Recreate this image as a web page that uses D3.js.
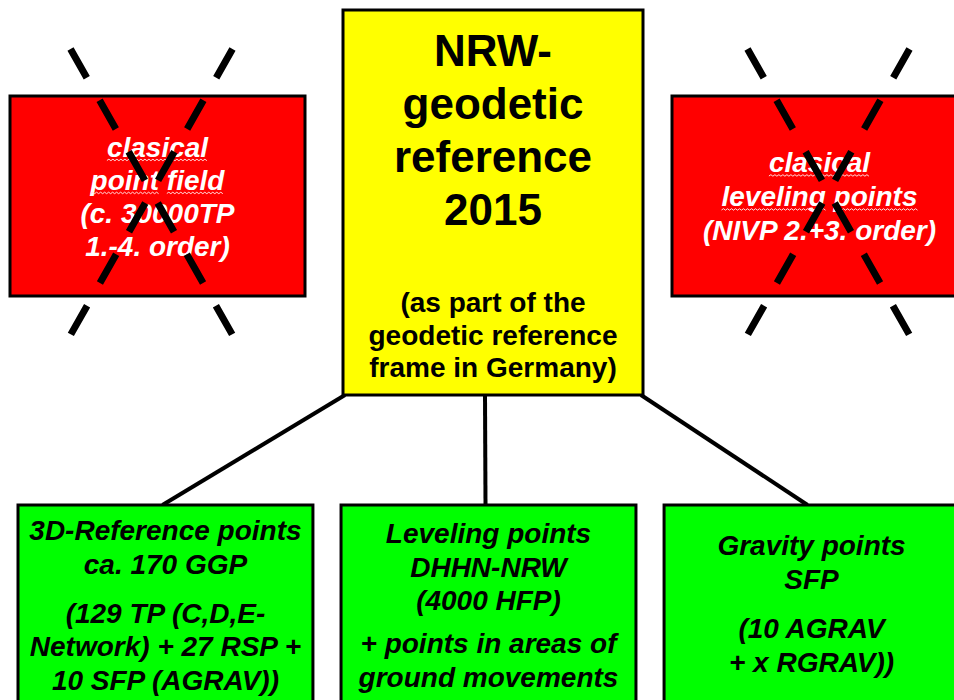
<!DOCTYPE html>
<html>
<head>
<meta charset="utf-8">
<script src="https://cdn.jsdelivr.net/npm/d3@7"></script>
<style>
  html, body { margin: 0; padding: 0; background: #fff; overflow: hidden; }
  svg { display: block; font-family: "Liberation Sans", Arial, sans-serif; }
</style>
</head>
<body>
<svg width="954" height="700"></svg>
<script>
// ---- diagram content ----
var topNodes = ["old_points", "nrw", "old_leveling"];
var bottomNodes = ["3d", "leveling", "gravity"];

var titleLines = ["NRW-", "geodetic", "reference", "2015"];
var subtitleLines = ["(as part of the", "geodetic reference", "frame in Germany)"];

var oldPointsLines = ["clasical", "point field", "(c. 30000TP", "1.-4. order)"];
var oldLevelingLines = ["clasical", "leveling points", "(NIVP 2.+3. order)"];
// lines that carry the spell-check squiggle in the original slide
var flaggedLines = ["clasical", "point field", "leveling points"];

var bottomTexts = [
  [["3D-Reference points", "ca. 170 GGP"], ["(129 TP (C,D,E-", "Network) + 27 RSP +", "10 SFP (AGRAV))"]],
  [["Leveling points", "DHHN-NRW", "(4000 HFP)"], ["+ points in areas of", "ground movements"]],
  [["Gravity points", "SFP"], ["(10 AGRAV", "+ x RGRAV))"]]
];

// ---- layout ----
var svg = d3.select("svg");
var W = 954, H = 700;

var topX = d3.scaleOrdinal().domain(topNodes).range([10, 343, 672]);
var topW = d3.scaleOrdinal().domain(topNodes).range([295, 300, 295]);

var redY = 96, redH = 200;
var yelY = 10, yelH = 385;

var xBottom = d3.scaleBand()
  .domain(bottomNodes)
  .range([18, 959])
  .paddingInner(0.087)
  .paddingOuter(0);
var greenY = 505, greenH = 260;

var lineW = 3;

// connectors (drawn first, behind boxes)
var yx = topX("nrw"), yw = topW("nrw");
var connectors = [
  { x1: yx + 2, y1: yelY + yelH, x2: xBottom("3d") + xBottom.bandwidth() / 2 - 3 },
  { x1: yx + 142, y1: yelY + yelH, x2: xBottom("leveling") + xBottom.bandwidth() / 2 - 3 },
  { x1: yx + yw - 2, y1: yelY + yelH, x2: xBottom("gravity") + xBottom.bandwidth() / 2 - 4 }
];
svg.append("g")
  .selectAll("line")
  .data(connectors)
  .enter()
  .append("line")
    .attr("x1", function(d){ return d.x1; })
    .attr("y1", function(d){ return d.y1; })
    .attr("x2", function(d){ return d.x2; })
    .attr("y2", greenY)
    .attr("stroke", "#000")
    .attr("stroke-width", 4);

// green boxes
svg.append("g")
  .selectAll("rect")
  .data(bottomNodes)
  .enter()
  .append("rect")
    .attr("x", function(d){ return xBottom(d); })
    .attr("y", greenY)
    .attr("width", xBottom.bandwidth())
    .attr("height", greenH)
    .attr("fill", "#00ff00")
    .attr("stroke", "#000")
    .attr("stroke-width", lineW);

// green box texts
var firstBase = [540, 543, 555];
var lh = 33.5;
var paraGap = [15.5, 9.5, 16];
bottomNodes.forEach(function(node, i){
  var t = svg.append("text")
    .attr("text-anchor", "middle")
    .attr("font-size", 28)
    .attr("font-weight", "bold")
    .attr("font-style", "italic")
    .attr("fill", "#000");
  var y = firstBase[i];
  var cx = xBottom(node) + xBottom.bandwidth() / 2;
  bottomTexts[i].forEach(function(para, p){
    if (p > 0) y += paraGap[i];
    para.forEach(function(line){
      t.append("tspan").attr("x", cx).attr("y", y).text(line);
      y += lh;
    });
  });
});

// red boxes
var redNodes = ["old_points", "old_leveling"];
svg.append("g")
  .selectAll("rect")
  .data(redNodes)
  .enter()
  .append("rect")
    .attr("x", function(d){ return topX(d); })
    .attr("y", redY)
    .attr("width", function(d){ return topW(d); })
    .attr("height", redH)
    .attr("fill", "#ff0000")
    .attr("stroke", "#000")
    .attr("stroke-width", lineW);

// little wavy underline like the spell checker draws
function squiggle(x0, x1, y){
  var p = d3.path();
  p.moveTo(x0, y);
  var up = true;
  for (var x = x0 + 2; x <= x1; x += 2) {
    p.lineTo(x, up ? y - 1.3 : y + 0.2);
    up = !up;
  }
  svg.append("path")
    .attr("d", p.toString())
    .attr("fill", "none")
    .attr("stroke", "#ffe0e0")
    .attr("stroke-width", 1);
}

function redText(node, lines, spacing){
  var cx = topX(node) + topW(node) / 2;
  var cy = redY + redH / 2;
  var t = svg.append("text")
    .attr("text-anchor", "middle")
    .attr("font-size", 28)
    .attr("font-weight", "bold")
    .attr("font-style", "italic")
    .attr("fill", "#fff");
  lines.forEach(function(line, i){
    var y = cy + (i - (lines.length - 1) / 2) * spacing + 10;
    var ts = t.append("tspan")
      .attr("x", cx)
      .attr("y", y)
      .text(line);
    if (flaggedLines.indexOf(line) >= 0) {
      var el = ts.node();
      var start = 0;
      line.split(" ").forEach(function(word){
        var a = el.getStartPositionOfChar(start).x;
        var b = el.getEndPositionOfChar(start + word.length - 1).x;
        squiggle(a, b, y + 4);
        start += word.length + 1;
      });
    }
  });
}
redText("old_points", oldPointsLines, 33);
redText("old_leveling", oldLevelingLines, 34);

// yellow box
svg.append("rect")
  .attr("x", yx)
  .attr("y", yelY)
  .attr("width", yw)
  .attr("height", yelH)
  .attr("fill", "#ffff00")
  .attr("stroke", "#000")
  .attr("stroke-width", lineW);

var ycx = yx + yw / 2;
var title = svg.append("text")
  .attr("text-anchor", "middle")
  .attr("font-size", 44)
  .attr("font-weight", "bold")
  .attr("fill", "#000");
titleLines.forEach(function(line, i){
  title.append("tspan").attr("x", ycx).attr("y", 66 + i * 53).text(line);
});
var sub = svg.append("text")
  .attr("text-anchor", "middle")
  .attr("font-size", 28)
  .attr("font-weight", "bold")
  .attr("fill", "#000");
subtitleLines.forEach(function(line, i){
  sub.append("tspan").attr("x", ycx).attr("y", 312 + i * 32.5).text(line);
});

// dashed crosses over the red boxes
var crosses = [
  { node: "old_points", dx: -6, dy: -4 },
  { node: "old_leveling", dx: 9, dy: -4 }
];
var halfW = 81, halfH = 143;
crosses.forEach(function(c){
  var cx = topX(c.node) + topW(c.node) / 2 + c.dx;
  var cy = redY + redH / 2 + c.dy;
  [[-1, 1], [1, -1]].forEach(function(s){
    svg.append("line")
      .attr("x1", cx + s[0] * halfW)
      .attr("y1", cy - halfH)
      .attr("x2", cx + s[1] * halfW)
      .attr("y2", cy + halfH)
      .attr("stroke", "#000")
      .attr("stroke-width", 7)
      .attr("stroke-dasharray", "33,26");
  });
});
</script>
</body>
</html>
